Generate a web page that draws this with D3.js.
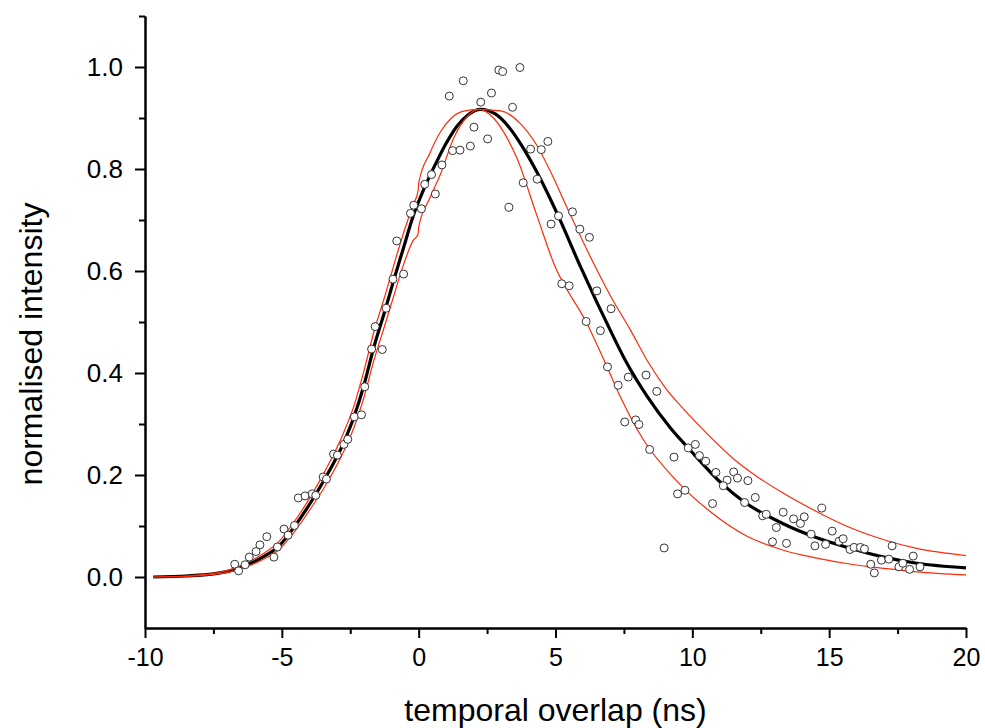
<!DOCTYPE html>
<html>
<head>
<meta charset="utf-8">
<script src="https://cdn.jsdelivr.net/npm/d3@7"></script>
<style>
  html, body { margin: 0; padding: 0; background: #fff; }
  svg { display: block; font-family: "Liberation Sans", Arial, sans-serif; }
</style>
</head>
<body>
<svg id="chart" width="985" height="728"></svg>
<script>
// measured points (temporal overlap in ns, normalised intensity)
const measured = [
  [-6.72, 0.025], [-6.58, 0.012], [-6.34, 0.024], [-6.19, 0.039], [-5.94, 0.050],
  [-5.80, 0.063], [-5.55, 0.079], [-5.29, 0.039], [-5.16, 0.059], [-4.92, 0.094],
  [-4.77, 0.082], [-4.54, 0.101], [-4.40, 0.155], [-4.15, 0.159], [-3.89, 0.163],
  [-3.76, 0.160], [-3.49, 0.196], [-3.37, 0.192], [-3.11, 0.241], [-2.97, 0.239],
  [-2.73, 0.260], [-2.59, 0.270], [-2.35, 0.314], [-2.09, 0.318], [-1.97, 0.373],
  [-1.72, 0.447], [-1.33, 0.446], [-1.59, 0.491], [-1.19, 0.527], [-0.94, 0.584],
  [-0.55, 0.594], [-0.80, 0.659], [-0.30, 0.713], [-0.18, 0.729], [0.10, 0.722],
  [0.22, 0.770], [0.61, 0.751], [0.47, 0.789], [0.85, 0.808], [1.24, 0.836],
  [1.51, 0.837], [1.89, 0.845], [2.02, 0.882], [2.52, 0.859], [2.27, 0.931],
  [1.12, 0.943], [1.63, 0.973], [2.66, 0.949], [2.93, 0.994], [3.07, 0.991],
  [3.70, 0.999], [3.43, 0.921], [3.30, 0.725], [3.82, 0.773], [4.33, 0.780],
  [4.09, 0.839], [4.48, 0.838], [4.72, 0.854], [4.84, 0.692], [5.11, 0.708],
  [5.62, 0.716], [5.89, 0.682], [6.24, 0.666], [5.23, 0.575], [5.50, 0.571],
  [6.51, 0.561], [7.03, 0.526], [6.12, 0.501], [6.64, 0.483], [6.90, 0.412],
  [7.29, 0.376], [7.66, 0.392], [8.31, 0.396], [8.70, 0.364], [7.53, 0.304],
  [7.93, 0.308], [8.05, 0.299], [8.44, 0.250], [9.33, 0.235], [9.85, 0.253],
  [10.11, 0.260], [10.26, 0.238], [10.49, 0.227], [10.86, 0.205], [11.27, 0.190],
  [11.51, 0.206], [11.65, 0.194], [12.03, 0.189], [11.13, 0.179], [9.73, 0.170],
  [9.46, 0.163], [10.74, 0.144], [11.91, 0.146], [12.30, 0.156], [12.57, 0.120],
  [12.70, 0.123], [13.07, 0.097], [12.93, 0.069], [8.97, 0.057], [13.32, 0.127],
  [13.44, 0.066], [13.70, 0.114], [13.95, 0.105], [14.09, 0.118], [14.34, 0.084],
  [14.48, 0.061], [14.73, 0.135], [14.87, 0.064], [15.11, 0.090], [15.36, 0.070],
  [15.51, 0.075], [15.76, 0.054], [15.91, 0.058], [16.14, 0.058], [16.29, 0.055],
  [16.52, 0.025], [16.65, 0.008], [16.91, 0.033], [17.18, 0.035], [17.30, 0.061],
  [17.55, 0.020], [17.69, 0.027], [17.94, 0.015], [18.07, 0.041], [18.32, 0.020]
];

// fitted curve
const fitCurve = [
  [-9.7, 0.000], [-8.5, 0.002], [-7.5, 0.006], [-6.9, 0.012], [-6.3, 0.023],
  [-5.7, 0.039], [-5.1, 0.061], [-4.55, 0.098], [-3.9, 0.150], [-3.4, 0.195],
  [-2.75, 0.262], [-2.35, 0.316], [-2.0, 0.376], [-1.65, 0.448], [-1.2, 0.528],
  [-0.9, 0.584], [-0.55, 0.646], [-0.2, 0.708], [0.2, 0.762], [0.6, 0.808],
  [1.0, 0.850], [1.4, 0.884], [1.8, 0.906], [2.26, 0.917], [2.8, 0.908],
  [3.3, 0.882], [3.8, 0.843], [4.3, 0.796], [5.1, 0.708], [5.9, 0.610],
  [6.5, 0.540], [7.0, 0.484], [7.6, 0.420], [8.35, 0.354], [9.2, 0.292],
  [9.9, 0.250], [11.1, 0.182], [11.9, 0.147], [13.3, 0.105], [14.55, 0.077],
  [15.8, 0.056], [17.0, 0.039], [18.2, 0.027], [20.0, 0.018]
];

// confidence band, upper and lower
const bandUpper = [
  [-9.7, 0.000], [-8.5, 0.002], [-7.5, 0.007], [-6.9, 0.014], [-6.3, 0.027],
  [-5.7, 0.045], [-5.1, 0.070], [-4.55, 0.108], [-3.9, 0.162], [-3.4, 0.210],
  [-2.75, 0.282], [-2.35, 0.338], [-2.0, 0.404], [-1.65, 0.478], [-1.2, 0.557],
  [-0.9, 0.613], [-0.55, 0.675], [-0.2, 0.730], [-0.02, 0.757], [0.0, 0.772],
  [0.4, 0.830], [0.8, 0.873], [1.2, 0.900], [1.6, 0.913], [2.2, 0.917],
  [3.0, 0.914], [3.7, 0.890], [4.3, 0.848], [4.8, 0.797], [5.5, 0.715],
  [6.3, 0.625], [7.0, 0.552], [7.74, 0.484], [8.4, 0.420], [9.0, 0.372],
  [9.7, 0.328], [10.5, 0.283], [11.5, 0.232], [12.1, 0.207], [13.3, 0.165],
  [14.55, 0.128], [15.8, 0.096], [17.0, 0.073], [18.2, 0.056], [20.0, 0.042]
];
const bandLower = [
  [-9.7, 0.000], [-8.5, 0.001], [-7.5, 0.005], [-6.9, 0.010], [-6.3, 0.020],
  [-5.7, 0.034], [-5.1, 0.054], [-4.55, 0.088], [-3.9, 0.138], [-3.4, 0.180],
  [-2.75, 0.245], [-2.35, 0.295], [-2.0, 0.352], [-1.65, 0.422], [-1.2, 0.500],
  [-0.9, 0.553], [-0.55, 0.613], [-0.2, 0.660], [-0.02, 0.672], [0.0, 0.686],
  [0.4, 0.742], [0.8, 0.790], [1.29, 0.862], [1.78, 0.903], [2.2, 0.917],
  [2.75, 0.899], [3.24, 0.860], [3.6, 0.820], [4.3, 0.712], [5.04, 0.602],
  [5.3, 0.575], [6.12, 0.500], [6.9, 0.410], [7.4, 0.350], [8.2, 0.270],
  [9.4, 0.190], [10.66, 0.128], [12.0, 0.080], [13.3, 0.053], [14.55, 0.037],
  [15.8, 0.025], [17.0, 0.017], [18.2, 0.010], [20.0, 0.004]
];

const xMajor = [-10, -5, 0, 5, 10, 15, 20];
const xMinor = [-7.5, -2.5, 2.5, 7.5, 12.5, 17.5];
const yMajor = [0.0, 0.2, 0.4, 0.6, 0.8, 1.0];
const yMinor = [0.1, 0.3, 0.5, 0.7, 0.9, 1.1];

const svg = d3.select('#chart');

const x = d3.scaleLinear().domain([-10, 20]).range([145, 966]);
const y = d3.scaleLinear().domain([-0.1, 1.1]).range([628, 16]);

const line = d3.line()
  .x(d => x(d[0]))
  .y(d => y(d[1]))
  .curve(d3.curveMonotoneX);

svg.append('path')
  .datum(fitCurve)
  .attr('fill', 'none')
  .attr('stroke', '#000')
  .attr('stroke-width', 3.2)
  .attr('d', line);

svg.selectAll('.band')
  .data([bandUpper, bandLower])
  .join('path')
  .attr('class', 'band')
  .attr('fill', 'none')
  .attr('stroke', '#ff2a0a')
  .attr('stroke-width', 1.2)
  .attr('d', line);

svg.selectAll('.pt')
  .data(measured)
  .join('circle')
  .attr('class', 'pt')
  .attr('cx', d => x(d[0]))
  .attr('cy', d => y(d[1]))
  .attr('r', 4)
  .attr('fill', '#fff')
  .attr('stroke', '#333')
  .attr('stroke-width', 1);

// axes
const xAxis = svg.append('g')
  .attr('transform', `translate(0, ${y(-0.1)})`)
  .call(d3.axisBottom(x).tickValues(xMajor).tickSize(10).tickSizeOuter(0)
    .tickFormat(d => String(d)));
svg.append('g')
  .attr('transform', `translate(0, ${y(-0.1)})`)
  .call(d3.axisBottom(x).tickValues(xMinor).tickSize(6).tickSizeOuter(0).tickFormat(''));

const yAxis = svg.append('g')
  .attr('transform', `translate(${x(-10)}, 0)`)
  .call(d3.axisLeft(y).tickValues(yMajor).tickSize(10).tickSizeOuter(0)
    .tickFormat(d3.format('.1f')));
svg.append('g')
  .attr('transform', `translate(${x(-10)}, 0)`)
  .call(d3.axisLeft(y).tickValues(yMinor).tickSize(6).tickSizeOuter(0).tickFormat(''));

svg.selectAll('.domain, .tick line')
  .attr('stroke', '#000')
  .attr('stroke-width', 2);

xAxis.selectAll('.tick text')
  .attr('y', 20)
  .attr('dy', '0.71em')
  .attr('fill', '#000')
  .style('font-size', '25px')
  .style('font-family', '"Liberation Sans", Arial, sans-serif');

yAxis.selectAll('.tick text')
  .attr('x', -22)
  .attr('fill', '#000')
  .style('font-size', '26px')
  .style('font-family', '"Liberation Sans", Arial, sans-serif');

svg.append('text')
  .attr('x', (x(-10) + x(20)) / 2)
  .attr('y', 721)
  .attr('text-anchor', 'middle')
  .style('font-size', '32px')
  .text('temporal overlap (ns)');

svg.append('text')
  .attr('transform', 'translate(42, 344) rotate(-90)')
  .attr('text-anchor', 'middle')
  .style('font-size', '32px')
  .text('normalised intensity');
</script>
</body>
</html>
